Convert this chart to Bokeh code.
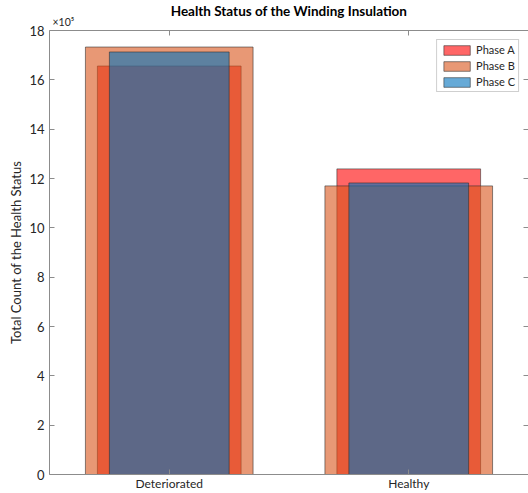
from bokeh.plotting import figure
from bokeh.models import (FactorRange, Range1d, FixedTicker, CustomJSTickFormatter,
                          LinearAxis, CategoricalAxis, Legend, LegendItem, Label)
from bokeh.embed import file_html
from bokeh.resources import INLINE

# Counts of each health status per phase
categories = ["Deteriorated", "Healthy"]
phase_a = [1656000, 1239000]
phase_b = [1733000, 1170000]
phase_c = [1713000, 1182000]
y_ticks = [0, 200000, 400000, 600000, 800000, 1000000, 1200000, 1400000, 1600000, 1800000]

FONT = "Lato"
TXT = "#262626"
AXC = "#8c8c8c"

p = figure(width=528, height=493, x_range=FactorRange(*categories, range_padding=0),
           y_range=Range1d(0, 1800000), output_backend="svg", toolbar_location=None,
           min_border_left=49, min_border_right=0, min_border_top=30, min_border_bottom=0)

p.title.text = "Health Status of the Winding Insulation"
p.title.align = "center"
p.title.text_font = FONT
p.title.text_font_style = "bold"
p.title.text_font_size = "13.5px"
p.title.text_color = "#000000"
p.title.standoff = 0
p.title.text_line_height = 0.9

p.grid.visible = False
p.outline_line_color = None

# Bars drawn in order A, B, C with translucent faces
edge = dict(line_color="#2b2b2b", line_alpha=0.7, line_width=0.8)
ra = p.vbar(x=categories, top=phase_a, width=0.6, fill_color="#ff0000", fill_alpha=0.6, **edge)
rb = p.vbar(x=categories, top=phase_b, width=0.7, fill_color="#d95319", fill_alpha=0.6, **edge)
rc = p.vbar(x=categories, top=phase_c, width=0.5, fill_color="#0072bd", fill_alpha=0.6, **edge)

fmt = CustomJSTickFormatter(code="return (tick / 100000).toFixed(0);")
blank = CustomJSTickFormatter(code="return '';")

def style_axis(ax):
    ax.axis_line_color = AXC
    ax.major_tick_line_color = AXC
    ax.major_tick_in = 5
    ax.major_tick_out = 0
    ax.minor_tick_line_color = None
    ax.major_label_text_font = FONT
    ax.major_label_text_font_size = "13px"
    ax.major_label_text_color = TXT

yax = p.yaxis[0]
yax.ticker = FixedTicker(ticks=y_ticks)
yax.formatter = fmt
style_axis(yax)
yax.major_label_standoff = 5
yax.axis_label = "Total Count of the Health Status"
yax.axis_label_text_font = FONT
yax.axis_label_text_font_size = "13px"
yax.axis_label_text_font_style = "normal"
yax.axis_label_text_color = TXT
yax.axis_label_standoff = 2

xax = p.xaxis[0]
style_axis(xax)
xax.major_label_text_font_size = "12px"
xax.major_label_standoff = 1

# Box ticks on the right and top edges, without labels
rax = LinearAxis(ticker=FixedTicker(ticks=y_ticks), formatter=blank)
style_axis(rax)
rax.axis_line_color = None
rax.major_label_standoff = 0
p.add_layout(rax, "right")

tax = CategoricalAxis(formatter=blank)
style_axis(tax)
tax.major_label_standoff = 0
tax.major_label_text_font_size = "1px"
p.add_layout(tax, "above")

# Exponent of the y tick labels, sitting just above the top-left corner of the axes
p.add_layout(Label(x=0, y=1800000, text="×10⁵", text_font=FONT, text_font_size="10.5px",
                   text_color=TXT, x_offset=3, y_offset=3, text_line_height=0.8), "above")

legend = Legend(items=[LegendItem(label="Phase A", renderers=[ra]),
                       LegendItem(label="Phase B", renderers=[rb]),
                       LegendItem(label="Phase C", renderers=[rc])],
                location="top_right", label_text_font=FONT, label_text_font_size="11px",
                label_text_color=TXT, glyph_width=33, glyph_height=12, label_height=12,
                label_standoff=3, spacing=3, padding=3, margin=9,
                border_line_color="#a0a0a0", background_fill_alpha=1)
p.add_layout(legend)

open("out.html", "w").write(file_html(p, INLINE))
